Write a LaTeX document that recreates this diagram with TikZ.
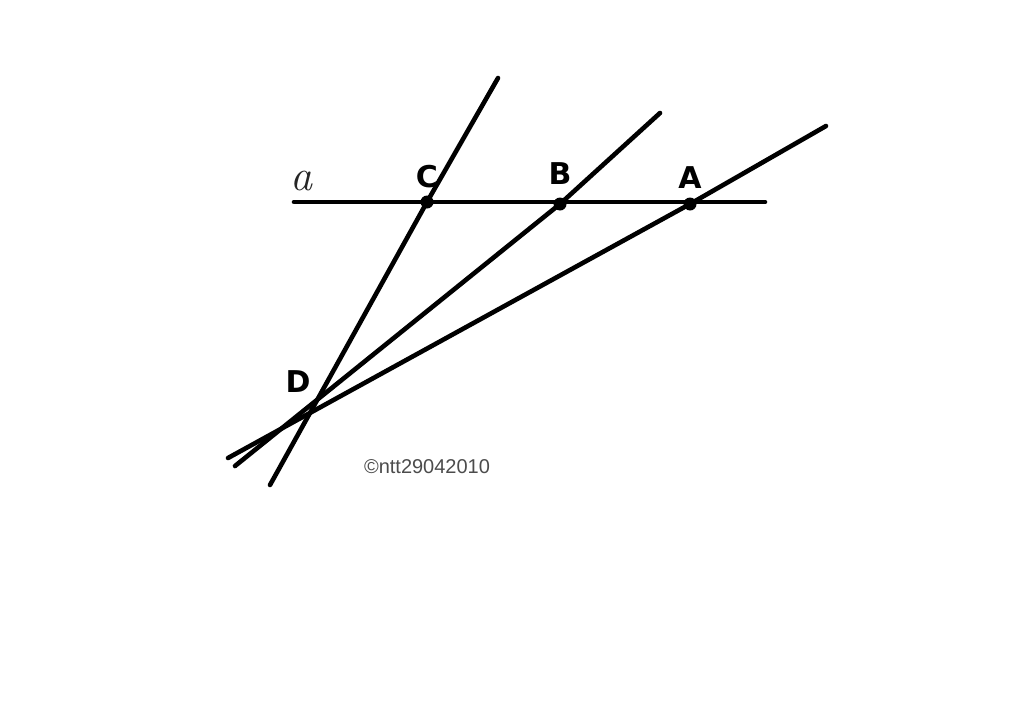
\documentclass[tikz,border=0pt]{standalone}
\usepackage{fontspec}
\newfontfamily\lblfont{DejaVu Sans}
\newfontfamily\wmfont{Liberation Sans}
\begin{document}
\begin{tikzpicture}[x=1pt,y=-1pt,
  ln/.style={line width=4.6pt,line cap=round,line join=round,black},
  pt/.style={circle,fill=black,inner sep=0pt,minimum size=13pt},
  lbl/.style={font=\lblfont\bfseries\fontsize{30}{30}\selectfont,inner sep=0pt},
  wm/.style={font=\wmfont\fontsize{20}{20}\selectfont,text=black!70,inner sep=0pt}]
\useasboundingbox[fill=white] (0,0) rectangle (1024,704);
% points
\node[pt] (C) at (427,202) {};
\node[pt] (B) at (560,204) {};
\node[pt] (A) at (690,204) {};
\coordinate (D) at (310,407);
% line ends
\coordinate (aL) at (294,202);
\coordinate (aR) at (765,202);
\coordinate (Ct) at (498,78);
\coordinate (Cb) at (270,485);
\coordinate (Bt) at (660,113);
\coordinate (Bb) at (235,466);
\coordinate (At) at (826,126);
\coordinate (Ab) at (228,458);
% lines
\draw[ln] (aL) -- (aR);
\draw[ln] (Cb) -- (C.center) -- (Ct);
\draw[ln] (Bb) -- (B.center) -- (Bt);
\draw[ln] (Ab) -- (A.center) -- (At);
% labels
\node[font=\fontsize{44}{44}\selectfont\itshape,inner sep=0pt,text=black!85] (la) at (301,181) {a};
\node[lbl] (lC) at (427,177) {C};
\node[lbl] (lB) at (560,174) {B};
\node[lbl] (lA) at (690,178) {A};
\node[lbl] (lD) at (298,382) {D};
\node[wm] (wm) at (427,467) {©ntt29042010};
\end{tikzpicture}
\end{document}
